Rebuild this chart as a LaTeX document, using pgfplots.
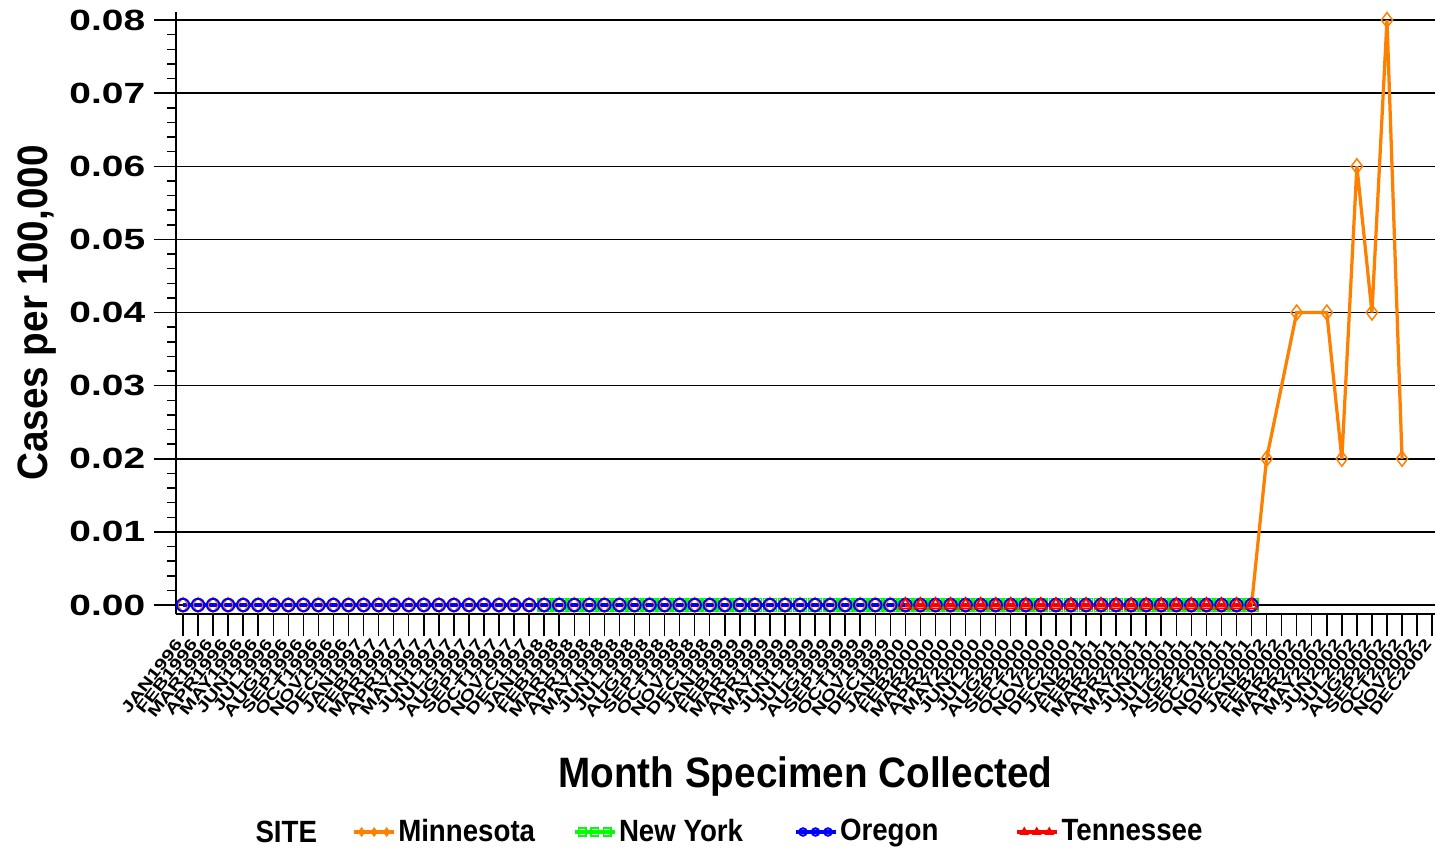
\documentclass[border=0pt]{standalone}
\usepackage{fontspec}
\setmainfont{Liberation Sans}
\newfontfamily\tickfont{Liberation Sans}[FakeStretch=1.33]
\newfontfamily\labfont{Liberation Sans}[FakeStretch=0.91]
\newfontfamily\legfont{Liberation Sans}[FakeStretch=0.9]
\usepackage{pgfplots}
\pgfplotsset{compat=1.18}
\definecolor{mnorange}{RGB}{255,128,0}
\definecolor{nygreen}{RGB}{0,255,0}
\definecolor{orblue}{RGB}{0,0,255}
\definecolor{tnred}{RGB}{255,0,0}
\begin{document}
\begin{tikzpicture}
\useasboundingbox (-70.4pt,-94.4pt) rectangle (504.4pt,245.6pt);
\begin{axis}[
    scale only axis,
    width=503.6pt, height=240.8pt,
    xmin=-0.465, xmax=83.19,
    ymin=-0.00123, ymax=0.0811,
    axis x line=bottom, axis y line=left,
    axis line style={-, line width=1pt},
    clip=false,
    tick align=outside,
    major tick length=8.8pt, minor tick length=3.6pt,
    every tick/.style={black, line width=0.6pt},
    ytick={0,0.01,0.02,0.03,0.04,0.05,0.06,0.07,0.08},
    minor y tick num=4,
    scaled y ticks=false,
    /pgf/number format/assume math mode=true,
    yticklabel style={font={\tickfont\bfseries\fontsize{11.7pt}{12pt}\selectfont},
        /pgf/number format/.cd, fixed, fixed zerofill, precision=2},
    ymajorgrids,
    grid style={black, line width=0.6pt},
    xtick={0,...,83},
    xticklabels={JAN1996,FEB1996,MAR1996,APR1996,MAY1996,JUN1996,JUL1996,AUG1996,SEP1996,OCT1996,NOV1996,DEC1996,
        JAN1997,FEB1997,MAR1997,APR1997,MAY1997,JUN1997,JUL1997,AUG1997,SEP1997,OCT1997,NOV1997,DEC1997,
        JAN1998,FEB1998,MAR1998,APR1998,MAY1998,JUN1998,JUL1998,AUG1998,SEP1998,OCT1998,NOV1998,DEC1998,
        JAN1999,FEB1999,MAR1999,APR1999,MAY1999,JUN1999,JUL1999,AUG1999,SEP1999,OCT1999,NOV1999,DEC1999,
        JAN2000,FEB2000,MAR2000,APR2000,MAY2000,JUN2000,JUL2000,AUG2000,SEP2000,OCT2000,NOV2000,DEC2000,
        JAN2001,FEB2001,MAR2001,APR2001,MAY2001,JUN2001,JUL2001,AUG2001,SEP2001,OCT2001,NOV2001,DEC2001,
        JAN2002,FEB2002,MAR2002,APR2002,MAY2002,JUN2002,JUL2002,AUG2002,SEP2002,OCT2002,NOV2002,DEC2002},
    xticklabel style={rotate=52, anchor=east, inner sep=2.5pt,
        font={\tickfont\bfseries\fontsize{6.3pt}{7pt}\selectfont}},
    xlabel={Month Specimen Collected},
    xlabel style={at={(axis description cs:0.5,0)}, anchor=base, yshift=-69.2pt,
        font={\labfont\bfseries\fontsize{17pt}{18pt}\selectfont}},
    ylabel={Cases per 100,000},
    ylabel style={at={(axis description cs:0,0.5)}, anchor=base, yshift=51.4pt,
        font={\labfont\bfseries\fontsize{17pt}{18pt}\selectfont}},
    legend style={at={(axis description cs:0,0)}, anchor=west, xshift=70.4pt, yshift=-87.2pt,
        draw=none, fill=none, inner sep=0pt, legend columns=-1,
        font={\legfont\bfseries\fontsize{12.3pt}{13pt}\selectfont},
        nodes={inner sep=1pt}},
    legend cell align=left,
    legend image code/.code={
        \draw[#1, mark size=1.5pt, mark indices={2,3,4}]
            plot coordinates {(0pt,0pt)(3pt,0pt)(8pt,0pt)(13pt,0pt)(16pt,0pt)};
    },
]
% Minnesota
\addplot[mnorange, line width=1.3pt, mark=diamond, mark size=3pt,
    mark options={solid, line width=0.6pt}] coordinates {
  (0,0)(1,0)(2,0)(3,0)(4,0)(5,0)(6,0)(7,0)(8,0)(9,0)(10,0)(11,0)
  (12,0)(13,0)(14,0)(15,0)(16,0)(17,0)(18,0)(19,0)(20,0)(21,0)(22,0)(23,0)
  (24,0)(25,0)(26,0)(27,0)(28,0)(29,0)(30,0)(31,0)(32,0)(33,0)(34,0)(35,0)
  (36,0)(37,0)(38,0)(39,0)(40,0)(41,0)(42,0)(43,0)(44,0)(45,0)(46,0)(47,0)
  (48,0)(49,0)(50,0)(51,0)(52,0)(53,0)(54,0)(55,0)(56,0)(57,0)(58,0)(59,0)
  (60,0)(61,0)(62,0)(63,0)(64,0)(65,0)(66,0)(67,0)(68,0)(69,0)(70,0)(71,0)
  (72,0.02)(74,0.04)(76,0.04)(77,0.02)(78,0.06)(79,0.04)(80,0.08)(81,0.02)
};
\addlegendentry{\makebox[68.8pt][l]{Minnesota}}
% New York
\addplot[nygreen, line width=1.5pt, mark=square, mark size=2.6pt,
    mark options={solid, line width=0.7pt}] coordinates {
  (24,0)(25,0)(26,0)(27,0)(28,0)(29,0)(30,0)(31,0)(32,0)(33,0)(34,0)(35,0)
  (36,0)(37,0)(38,0)(39,0)(40,0)(41,0)(42,0)(43,0)(44,0)(45,0)(46,0)(47,0)
  (48,0)(49,0)(50,0)(51,0)(52,0)(53,0)(54,0)(55,0)(56,0)(57,0)(58,0)(59,0)
  (60,0)(61,0)(62,0)(63,0)(64,0)(65,0)(66,0)(67,0)(68,0)(69,0)(70,0)(71,0)
};
\addlegendentry{\makebox[68.8pt][l]{New York}}
% Oregon
\addplot[orblue, line width=1.6pt, mark=o, mark size=2.5pt,
    mark options={solid, line width=0.8pt}] coordinates {
  (0,0)(1,0)(2,0)(3,0)(4,0)(5,0)(6,0)(7,0)(8,0)(9,0)(10,0)(11,0)
  (12,0)(13,0)(14,0)(15,0)(16,0)(17,0)(18,0)(19,0)(20,0)(21,0)(22,0)(23,0)
  (24,0)(25,0)(26,0)(27,0)(28,0)(29,0)(30,0)(31,0)(32,0)(33,0)(34,0)(35,0)
  (36,0)(37,0)(38,0)(39,0)(40,0)(41,0)(42,0)(43,0)(44,0)(45,0)(46,0)(47,0)
  (48,0)(49,0)(50,0)(51,0)(52,0)(53,0)(54,0)(55,0)(56,0)(57,0)(58,0)(59,0)
  (60,0)(61,0)(62,0)(63,0)(64,0)(65,0)(66,0)(67,0)(68,0)(69,0)(70,0)(71,0)
};
\addlegendentry{\makebox[68.8pt][l]{Oregon}}
% Tennessee
\addplot[tnred, line width=1.8pt, mark=triangle, mark size=2.7pt,
    mark options={solid, line width=0.7pt}] coordinates {
  (48,0)(49,0)(50,0)(51,0)(52,0)(53,0)(54,0)(55,0)(56,0)(57,0)(58,0)(59,0)
  (60,0)(61,0)(62,0)(63,0)(64,0)(65,0)(66,0)(67,0)(68,0)(69,0)(70,0)(71,0)
};
\addlegendentry{Tennessee}
\node[anchor=west, inner sep=0pt, xshift=31.6pt, yshift=-87.2pt,
    font={\legfont\bfseries\fontsize{12.3pt}{13pt}\selectfont}]
    at (axis description cs:0,0) {SITE};
\end{axis}
\end{tikzpicture}
\end{document}
